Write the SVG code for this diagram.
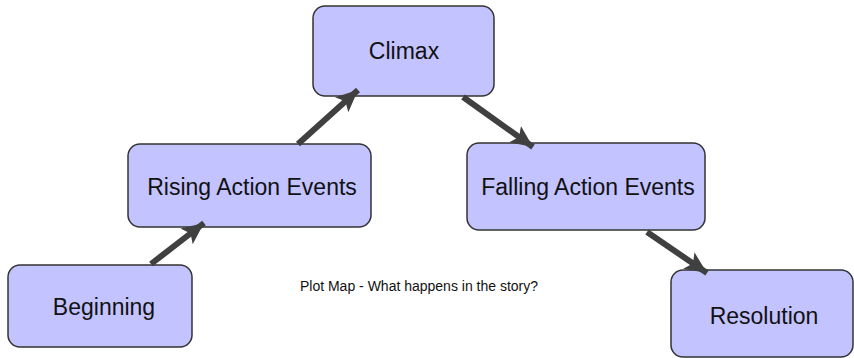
<svg xmlns="http://www.w3.org/2000/svg" width="854" height="358" viewBox="0 0 854 358">
<style>
.node rect{fill:#c3c3ff;stroke:#333;stroke-width:1.5}
.node text{font-family:"Liberation Sans",Arial,sans-serif;font-size:23px;fill:#111;text-anchor:middle;dominant-baseline:central}
.conn line{stroke:#404040;stroke-width:6}
.cap{font-family:"Liberation Sans",Arial,sans-serif;font-size:14px;fill:#111;text-anchor:middle}
</style>
<defs>
<marker id="ah" markerUnits="userSpaceOnUse" markerWidth="24" markerHeight="24" viewBox="0 0 24 24" refX="22" refY="12" orient="auto">
<path d="M0,2 L22,12 L0,22 L5,12 Z" fill="#404040"/>
</marker>
</defs>
<rect width="854" height="358" fill="#fff"/>
<g id="beginning" class="node"><rect x="8" y="265" width="184" height="82" rx="12"/><text x="104" y="307">Beginning</text></g>
<g id="rising" class="node"><rect x="128" y="144" width="243" height="83" rx="12"/><text x="252" y="187">Rising Action Events</text></g>
<g id="climax" class="node"><rect x="313" y="6" width="181" height="90" rx="12"/><text x="404" y="51">Climax</text></g>
<g id="falling" class="node"><rect x="467" y="143" width="238" height="87" rx="12"/><text x="588" y="187">Falling Action Events</text></g>
<g id="resolution" class="node"><rect x="671" y="270" width="182" height="87" rx="12"/><text x="764" y="316">Resolution</text></g>
<g id="connectors" class="conn">
<line x1="151" y1="264" x2="204" y2="223" marker-end="url(#ah)"/>
<line x1="298" y1="144" x2="358" y2="90" marker-end="url(#ah)"/>
<line x1="463" y1="97" x2="533" y2="147" marker-end="url(#ah)"/>
<line x1="647" y1="232" x2="707" y2="273" marker-end="url(#ah)"/>
</g>
<text class="cap" x="419" y="291">Plot Map - What happens in the story?</text>
</svg>
